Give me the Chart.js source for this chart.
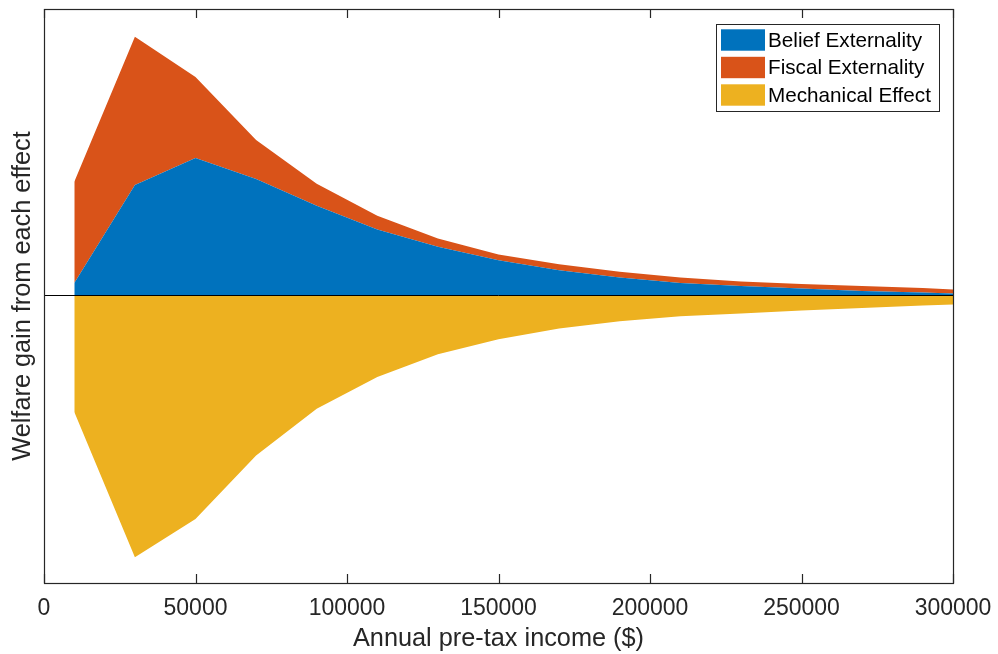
<!DOCTYPE html>
<html>
<head>
<meta charset="UTF-8" />
<script src="https://cdn.jsdelivr.net/npm/chart.js@4.4.1/dist/chart.umd.min.js"></script>
<style>
  html, body { margin: 0; padding: 0; background: #fff; }
  canvas { display: block; }
</style>
</head>
<body>
<canvas id="myChart" width="998" height="654"></canvas>
<script>
// data (y in arbitrary units, no y tick labels)
const income = [10000, 30000, 50000, 70000, 90000, 110000, 130000, 150000,
                170000, 190000, 210000, 230000, 250000, 270000, 290000, 300000];
const belief = [12.6, 110.3, 137.3, 116.3, 89.6, 66, 48.6, 35.3,
                25.3, 18, 12.6, 9.5, 7, 4.5, 3, 2];
const fiscal = [101, 148, 80.7, 39, 22, 13.6, 8.4, 5.7,
                6, 5.6, 5.4, 4.5, 4.5, 5, 4.5, 4];
const mechanical = [-116.4, -261.4, -223, -159.7, -113, -81.4, -58.7, -43.7,
                    -33, -25.7, -20.7, -18, -15, -12.5, -10, -9];
const xTicks = [0, 50000, 100000, 150000, 200000, 250000, 300000];

const axisColor = "#262626";
const fontFamily = "'Liberation Sans', Arial, Helvetica, sans-serif";

function pts(ys) {
  return income.map(function(x, i) { return {x: x, y: ys[i]}; });
}

const data = {
  datasets: [
    {
      label: "Belief Externality",
      data: pts(belief),
      stack: "pos",
      fill: "origin",
      backgroundColor: "#0072BD",
      borderWidth: 0,
      pointRadius: 0
    },
    {
      label: "Fiscal Externality",
      data: pts(fiscal),
      stack: "pos",
      fill: "-1",
      backgroundColor: "#D95319",
      borderWidth: 0,
      pointRadius: 0
    },
    {
      label: "Mechanical Effect",
      data: pts(mechanical),
      stack: "neg",
      fill: "origin",
      backgroundColor: "#EDB120",
      borderWidth: 0,
      pointRadius: 0
    }
  ]
};

// frame with inward ticks, the zero baseline, and the boxed legend
const matlabAxes = {
  id: "matlabAxes",
  afterDatasetsDraw: function(chart) {
    const ctx = chart.ctx, a = chart.chartArea;
    const xs = chart.scales.x, ys = chart.scales.y;
    ctx.save();
    // zero line
    const y0 = Math.round(ys.getPixelForValue(0)) + 0.5;
    ctx.strokeStyle = "#000";
    ctx.lineWidth = 1;
    ctx.beginPath();
    ctx.moveTo(a.left, y0);
    ctx.lineTo(a.right, y0);
    ctx.stroke();
    // box
    ctx.strokeStyle = axisColor;
    ctx.lineWidth = 1.2;
    ctx.strokeRect(Math.round(a.left) + 0.5, Math.round(a.top) + 0.5,
                   Math.round(a.right - a.left), Math.round(a.bottom - a.top));
    // ticks inside, top and bottom
    ctx.beginPath();
    xTicks.forEach(function(v) {
      const px = Math.round(xs.getPixelForValue(v)) + 0.5;
      ctx.moveTo(px, a.bottom);
      ctx.lineTo(px, a.bottom - 9);
      ctx.moveTo(px, a.top);
      ctx.lineTo(px, a.top + 9);
    });
    ctx.stroke();
    ctx.restore();
  },
  afterDraw: function(chart) {
    const ctx = chart.ctx, a = chart.chartArea;
    const right = a.right - 14, top = a.top + 15;
    const w = 223, h = 87;
    const left = right - w;
    ctx.save();
    ctx.fillStyle = "#fff";
    ctx.fillRect(left, top, w, h);
    ctx.strokeStyle = axisColor;
    ctx.lineWidth = 1;
    ctx.strokeRect(left + 0.5, top + 0.5, w, h);
    ctx.font = "20.7px " + fontFamily;
    ctx.textBaseline = "middle";
    ctx.textAlign = "left";
    chart.data.datasets.forEach(function(ds, i) {
      const cy = top + 16 + i * 27.5;
      ctx.fillStyle = ds.backgroundColor;
      ctx.fillRect(left + 5, cy - 10.7, 44, 21.4);
      ctx.fillStyle = "#000";
      ctx.fillText(ds.label, left + 52, cy + 1);
    });
    ctx.restore();
  }
};

const config = {
  type: "line",
  data: data,
  options: {
    responsive: false,
    devicePixelRatio: 1,
    animation: false,
    layout: { padding: { top: 9, right: 45, left: 0, bottom: 0 } },
    elements: { line: { tension: 0 } },
    plugins: {
      legend: { display: false },
      tooltip: { enabled: false }
    },
    scales: {
      x: {
        type: "linear",
        min: 0,
        max: 300000,
        grid: { display: false, drawTicks: false },
        border: { display: false },
        afterBuildTicks: function(scale) {
          scale.ticks = xTicks.map(function(v) { return {value: v}; });
        },
        afterFit: function(scale) {
          scale.height = 71;
          scale.paddingLeft = 0;
          scale.paddingRight = 0;
        },
        ticks: {
          padding: 12,
          color: axisColor,
          font: { size: 23, family: fontFamily },
          maxRotation: 0,
          callback: function(value) { return String(value); }
        },
        title: {
          display: true,
          text: "Annual pre-tax income ($)",
          color: axisColor,
          font: { size: 25.3, family: fontFamily },
          padding: { top: 0, bottom: 0 }
        }
      },
      y: {
        stacked: true,
        min: -287,
        max: 286,
        grid: { display: false, drawTicks: false },
        border: { display: false },
        ticks: { display: false },
        afterFit: function(scale) {
          scale.width = 44;
          scale.paddingTop = 0;
          scale.paddingBottom = 0;
        },
        title: {
          display: true,
          text: "Welfare gain from each effect",
          color: axisColor,
          font: { size: 25.3, family: fontFamily },
          padding: { top: 8, bottom: 0 }
        }
      }
    }
  },
  plugins: [matlabAxes]
};

var myChart = new Chart(document.getElementById("myChart"), config);
</script>
</body>
</html>
